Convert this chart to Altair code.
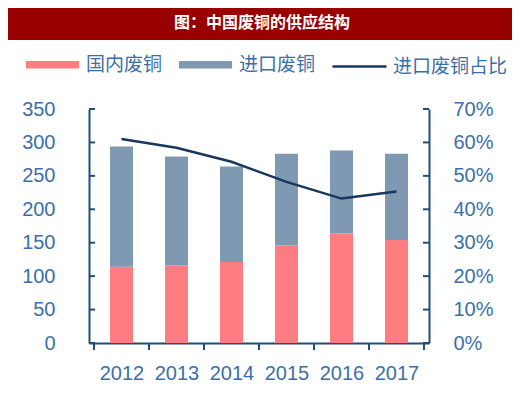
import altair as alt
import pandas as pd

years = [2012, 2013, 2014, 2015, 2016, 2017]
domestic = [114, 116, 121, 146, 164, 154]
imported = [180, 163, 143, 137, 124, 129]
ratio = [0.61, 0.584, 0.542, 0.482, 0.432, 0.453]
series_names = ["国内废铜", "进口废铜"]
line_name = "进口废铜占比"
title_text = "图：中国废铜的供应结构"
left_ticks = [0, 50, 100, 150, 200, 250, 300, 350]
right_ticks = [0, 0.1, 0.2, 0.3, 0.4, 0.5, 0.6, 0.7]
x_bounds = [2011.5, 2012.5, 2013.5, 2014.5, 2015.5, 2016.5, 2017.5]

W, H = 340, 234
AXIS = "#1F4E79"
LAB = "#3B6FA8"
NUM_FONT = "Liberation Sans"
CJK = "Noto Sans CJK SC"

rows = []
for y, d, i in zip(years, domestic, imported):
    rows.append({"year": y, "series": series_names[0], "lo": 0, "hi": d})
    rows.append({"year": y, "series": series_names[1], "lo": d, "hi": d + i})
bar_df = pd.DataFrame(rows)
line_df = pd.DataFrame({"year": years, "ratio": ratio, "series": [line_name] * len(years)})

xscale = alt.Scale(domain=[2011.5, 2017.5], nice=False, zero=False)
lscale = alt.Scale(domain=[0, 350], nice=False)
rscale = alt.Scale(domain=[0, 0.7], nice=False)

xaxis = alt.Axis(
    values=years, format="d", title=None, ticks=False, tickSize=0, grid=False,
    labelFontSize=20, labelColor=LAB, labelFont=NUM_FONT, labelPadding=20,
    domainColor=AXIS, domainWidth=2)

bars = alt.Chart(bar_df).mark_bar(size=23).encode(
    x=alt.X("year:Q", scale=xscale, axis=xaxis),
    y=alt.Y("lo:Q", scale=lscale, axis=alt.Axis(
        values=left_ticks, title=None, ticks=False, tickSize=0, grid=False,
        labelFontSize=20, labelColor=LAB, labelFont=NUM_FONT, labelPadding=34,
        domainColor=AXIS, domainWidth=2)),
    y2="hi:Q",
    color=alt.Color("series:N", scale=alt.Scale(domain=series_names, range=["#FF7C80", "#7F99B3"]),
                    legend=alt.Legend(title=None, orient="none", direction="horizontal",
                                      legendX=-63, legendY=-71,
                                      symbolType="M-1,-0.14H1V0.14H-1Z", symbolSize=2809,
                                      symbolStrokeWidth=0, labelFontSize=19, labelFont=CJK,
                                      labelColor=LAB, labelOffset=7, columnPadding=16,
                                      padding=0)),
)

line = alt.Chart(line_df).mark_line(strokeWidth=2.5).encode(
    x=alt.X("year:Q", scale=xscale, axis=xaxis),
    y=alt.Y("ratio:Q", scale=rscale, axis=alt.Axis(
        orient="right", values=right_ticks, format=".0%", title=None, ticks=False, tickSize=0,
        grid=False, labelFontSize=20, labelColor=LAB, labelFont=NUM_FONT, labelPadding=24,
        domainColor=AXIS, domainWidth=2)),
    stroke=alt.Stroke("series:N", scale=alt.Scale(domain=[line_name], range=["#17375E"]),
                      legend=alt.Legend(title=None, orient="none", legendX=242, legendY=-71,
                                        symbolType="M-1,0H1", symbolSize=2916,
                                        symbolStrokeWidth=2.5, labelFontSize=19, labelFont=CJK,
                                        labelColor=LAB, labelOffset=5, padding=0)),
)

lt_df = pd.DataFrame({"v": left_ticks})
rt_df = pd.DataFrame({"v": right_ticks})
xt_df = pd.DataFrame({"b": x_bounds})

lticks = alt.Chart(lt_df).mark_rule(color=AXIS, strokeWidth=2).encode(
    x=alt.value(0), x2=alt.value(6), y=alt.Y("v:Q", scale=lscale, axis=None))
rticks = alt.Chart(rt_df).mark_rule(color=AXIS, strokeWidth=2).encode(
    x=alt.value(W - 6), x2=alt.value(W), y=alt.Y("v:Q", scale=rscale, axis=None))
xticks = alt.Chart(xt_df).mark_rule(color=AXIS, strokeWidth=2).encode(
    x=alt.X("b:Q", scale=xscale, axis=xaxis), y=alt.value(H), y2=alt.value(H + 7))

banner = alt.Chart(pd.DataFrame({"t": [title_text]})).mark_rect(color="#990000").encode(
    x=alt.value(-81), x2=alt.value(423), y=alt.value(-101), y2=alt.value(-69))
title = alt.Chart(pd.DataFrame({"t": [title_text]})).mark_text(
    color="white", fontSize=16, fontWeight="bold", font=CJK, align="center", baseline="middle"
).encode(x=alt.value(173), y=alt.value(-86), text="t:N")

chart = alt.layer(banner, title, bars, line, lticks, rticks, xticks).resolve_scale(
    y="independent", color="independent", stroke="independent"
).properties(
    width=W, height=H,
    autosize=alt.AutoSizeParams(type="none"),
    padding={"left": 81, "top": 101, "right": 83, "bottom": 46},
).configure_view(stroke=None).configure_axis(grid=False)

chart.save("out.html", embed_options={"renderer": "svg", "actions": False})
